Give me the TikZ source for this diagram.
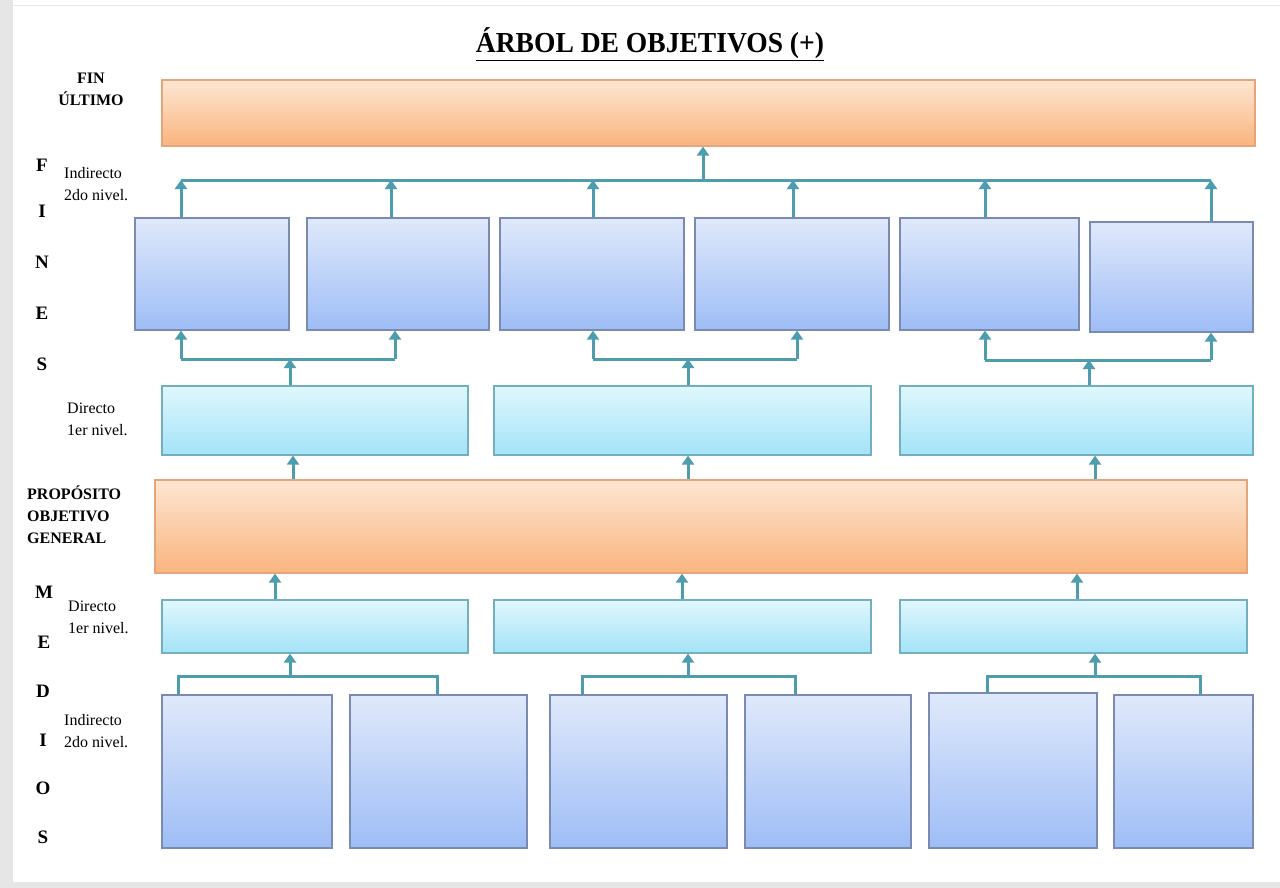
\documentclass[tikz,border=0pt]{standalone}
\usepackage{fontspec}
\setmainfont{Liberation Serif}
\usetikzlibrary{arrows.meta}
\definecolor{orTop}{HTML}{FDE6D2}
\definecolor{orBot}{HTML}{F9B47E}
\definecolor{orLine}{HTML}{E3A67C}
\definecolor{blTop}{HTML}{E0E9FB}
\definecolor{blBot}{HTML}{9EBDF6}
\definecolor{blLine}{HTML}{7A8AB0}
\definecolor{cyTop}{HTML}{E0F7FD}
\definecolor{cyBot}{HTML}{A3E3F7}
\definecolor{cyLine}{HTML}{74AFC0}
\definecolor{arrc}{HTML}{4E9DAE}
\definecolor{frame}{HTML}{E6E6E6}
\begin{document}
\begin{tikzpicture}[x=1pt,y=-1pt,
  orbox/.style={draw=orLine, line width=1.2pt, top color=orTop, bottom color=orBot, inner sep=0pt},
  blbox/.style={draw=blLine, line width=1.2pt, top color=blTop, bottom color=blBot, inner sep=0pt},
  cybox/.style={draw=cyLine, line width=1.2pt, top color=cyTop, bottom color=cyBot, inner sep=0pt},
  conn/.style={draw=arrc, line width=3pt},
  arr/.style={draw=arrc, line width=3pt, -{Triangle[length=9pt,width=12pt]}},
  big/.style={font=\fontsize{19}{19}\selectfont\bfseries, inner sep=0pt},
  side/.style={font=\fontsize{16}{22}\selectfont\bfseries, align=left, inner sep=0pt},
  small/.style={font=\fontsize{16}{22}\selectfont, align=left, inner sep=0pt, anchor=west}]
\useasboundingbox (0,0) rectangle (1280,888);
\fill[white] (0,0) rectangle (1280,888);
\fill[frame] (0,0) rectangle (13,888);
\fill[frame] (0,882) rectangle (1280,888);
\draw[frame, line width=1pt] (13,6) -- (1280,6);

% title
\node[font=\fontsize{29}{29}\selectfont\bfseries, inner sep=0pt, xscale=0.95] (title) at (650,44) {\underline{ÁRBOL DE OBJETIVOS (+)}};

% boxes
\node[orbox, minimum width=1093pt, minimum height=66pt] (fin) at (708.5,113) {};
\node[blbox, minimum width=154pt, minimum height=112pt] (f1) at (212,274) {};
\node[blbox, minimum width=182pt, minimum height=112pt] (f2) at (398,274) {};
\node[blbox, minimum width=184pt, minimum height=112pt] (f3) at (592,274) {};
\node[blbox, minimum width=194pt, minimum height=112pt] (f4) at (792,274) {};
\node[blbox, minimum width=179pt, minimum height=112pt] (f5) at (989.5,274) {};
\node[blbox, minimum width=163pt, minimum height=110pt] (f6) at (1171.5,277) {};
\node[cybox, minimum width=306pt, minimum height=69pt] (d1) at (315,420.5) {};
\node[cybox, minimum width=377pt, minimum height=69pt] (d2) at (682.5,420.5) {};
\node[cybox, minimum width=353pt, minimum height=69pt] (d3) at (1076.5,420.5) {};
\node[orbox, minimum width=1092pt, minimum height=93pt] (prop) at (701,526.5) {};
\node[cybox, minimum width=306pt, minimum height=53pt] (m1) at (315,626.5) {};
\node[cybox, minimum width=377pt, minimum height=53pt] (m2) at (682.5,626.5) {};
\node[cybox, minimum width=347pt, minimum height=53pt] (m3) at (1073.5,626.5) {};
\node[blbox, minimum width=170pt, minimum height=153pt] (i1) at (247,771.5) {};
\node[blbox, minimum width=177pt, minimum height=153pt] (i2) at (438.5,771.5) {};
\node[blbox, minimum width=177pt, minimum height=153pt] (i3) at (638.5,771.5) {};
\node[blbox, minimum width=166pt, minimum height=153pt] (i4) at (828,771.5) {};
\node[blbox, minimum width=168pt, minimum height=155pt] (i5) at (1013,770.5) {};
\node[blbox, minimum width=139pt, minimum height=153pt] (i6) at (1183.5,771.5) {};

% top bus
\coordinate (busL) at (181,180);
\coordinate (busR) at (1211,180);
\coordinate (busM) at (703,180);
\coordinate (b2) at (391,180);
\coordinate (b3) at (593,180);
\coordinate (b4) at (793,180);
\coordinate (b5) at (985,180);
\draw[conn] (busL) -- (busR);
\draw[arr] (busM) -- (fin.south -| busM);
\draw[arr] (f1.north -| busL) -- (busL);
\draw[arr] (f2.north -| b2) -- (b2);
\draw[arr] (f3.north -| b3) -- (b3);
\draw[arr] (f4.north -| b4) -- (b4);
\draw[arr] (f5.north -| b5) -- (b5);
\draw[arr] (f6.north -| busR) -- (busR);

% fines brackets
\coordinate (g1L) at (181,359); \coordinate (g1R) at (395,359); \coordinate (g1M) at (290,359);
\coordinate (g2L) at (593,359); \coordinate (g2R) at (797,359); \coordinate (g2M) at (688,359);
\coordinate (g3L) at (985,360); \coordinate (g3R) at (1211,360); \coordinate (g3M) at (1089,360);
\draw[conn] (g1L) -- (g1R);
\draw[arr] (g1L) -- (f1.south -| g1L);
\draw[arr] (g1R) -- (f2.south -| g1R);
\draw[arr] (d1.north -| g1M) -- (g1M);
\draw[conn] (g2L) -- (g2R);
\draw[arr] (g2L) -- (f3.south -| g2L);
\draw[arr] (g2R) -- (f4.south -| g2R);
\draw[arr] (d2.north -| g2M) -- (g2M);
\draw[conn] (g3L) -- (g3R);
\draw[arr] (g3L) -- (f5.south -| g3L);
\draw[arr] (g3R) -- (f6.south -| g3R);
\draw[arr] (d3.north -| g3M) -- (g3M);

% propósito -> directo fines
\draw[arr] ([xshift=-22pt]d1.south |- prop.north) -- ([xshift=-22pt]d1.south);
\draw[arr] ([xshift=5.5pt]d2.south |- prop.north) -- ([xshift=5.5pt]d2.south);
\draw[arr] ([xshift=18.5pt]d3.south |- prop.north) -- ([xshift=18.5pt]d3.south);

% medios directo -> propósito
\draw[arr] ([xshift=-40pt]m1.north) -- ([xshift=-40pt]m1.north |- prop.south);
\draw[arr] ([xshift=-0.5pt]m2.north) -- ([xshift=-0.5pt]m2.north |- prop.south);
\draw[arr] ([xshift=3.5pt]m3.north) -- ([xshift=3.5pt]m3.north |- prop.south);

% medios brackets
\coordinate (g4L) at (178,676); \coordinate (g4R) at (437,676); \coordinate (g4M) at (290,676);
\coordinate (g5L) at (582,676); \coordinate (g5R) at (795,676); \coordinate (g5M) at (688,676);
\coordinate (g6L) at (987,676); \coordinate (g6R) at (1200,676); \coordinate (g6M) at (1095,676);
\draw[conn] (i1.north -| g4L) -- (g4L) -- (g4R) -- (i2.north -| g4R);
\draw[arr] (g4M) -- (m1.south -| g4M);
\draw[conn] (i3.north -| g5L) -- (g5L) -- (g5R) -- (i4.north -| g5R);
\draw[arr] (g5M) -- (m2.south -| g5M);
\draw[conn] (i5.north -| g6L) -- (g6L) -- (g6R) -- (i6.north -| g6R);
\draw[arr] (g6M) -- (m3.south -| g6M);

% side labels
\node[side, align=center] (finlab) at (91,89) {FIN\\ÚLTIMO};
\node[side, anchor=north west] (proplab) at (27,486) {PROPÓSITO\\OBJETIVO\\GENERAL};
\node[big] (lF) at (42,165) {F};
\node[big] (lI) at (42,211) {I};
\node[big] (lN) at (42,262) {N};
\node[big] (lE) at (42,313) {E};
\node[big] (lS) at (42,364) {S};
\node[big] (lM) at (44,592) {M};
\node[big] (lE2) at (44,642) {E};
\node[big] (lD) at (43,691) {D};
\node[big] (lI2) at (43,740) {I};
\node[big] (lO) at (43,788) {O};
\node[big] (lS2) at (43,837) {S};
\node[small] (t1) at (64,184) {Indirecto\\2do nivel.};
\node[small] (t2) at (67,419) {Directo\\1er nivel.};
\node[small] (t3) at (68,617) {Directo\\1er nivel.};
\node[small] (t4) at (64,731) {Indirecto\\2do nivel.};
\end{tikzpicture}
\end{document}
